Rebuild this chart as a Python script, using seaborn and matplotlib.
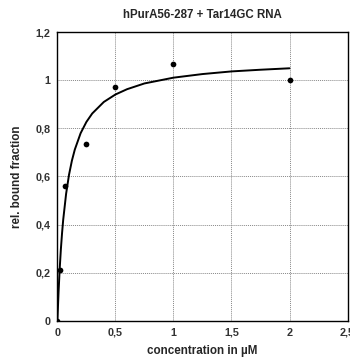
import matplotlib
matplotlib.use("Agg")
import matplotlib.pyplot as plt
import seaborn as sns
import pandas as pd
from matplotlib.ticker import FuncFormatter, MultipleLocator

# measured data points
conc = [0.0, 0.025, 0.0625, 0.25, 0.5, 1.0, 2.0]
bound = [0.0, 0.21, 0.56, 0.735, 0.973, 1.066, 1.0]

# fitted curve
fit_x = [0.0, 0.01, 0.02, 0.03, 0.04, 0.05, 0.075, 0.1, 0.125, 0.15, 0.2, 0.25,
         0.3, 0.4, 0.5, 0.6, 0.75, 1.0, 1.25, 1.5, 1.75, 2.0]
fit_y = [0.0, 0.12, 0.218, 0.298, 0.364, 0.42, 0.528, 0.607, 0.666, 0.712, 0.78,
         0.827, 0.862, 0.91, 0.941, 0.963, 0.987, 1.011, 1.026, 1.037, 1.044, 1.05]

title = "hPurA56-287 + Tar14GC RNA"
xlabel = "concentration in µM"
ylabel = "rel. bound fraction"

sns.set_style("white")
plt.rcParams['font.family'] = ['Liberation Sans', 'DejaVu Sans']

fig = plt.figure(figsize=(3.5, 3.58), dpi=100)
ax = fig.add_axes([0.164, 0.104, 0.829, 0.806])

pts = pd.DataFrame({"x": conc, "y": bound})
fit = pd.DataFrame({"x": fit_x, "y": fit_y})

sns.lineplot(data=fit, x="x", y="y", ax=ax, color="black", linewidth=1.4,
             sort=False, zorder=3)
sns.scatterplot(data=pts, x="x", y="y", ax=ax, color="black", s=17,
                edgecolor="black", linewidth=0, zorder=4)

ax.set_xlim(0, 2.5)
ax.set_ylim(0, 1.2)
ax.xaxis.set_major_locator(MultipleLocator(0.5))
ax.yaxis.set_major_locator(MultipleLocator(0.2))

def fmt(v, pos):
    s = ("%.1f" % v)
    if s.endswith(".0"):
        s = s[:-2]
    return s.replace(".", ",")

ax.xaxis.set_major_formatter(FuncFormatter(fmt))
ax.yaxis.set_major_formatter(FuncFormatter(fmt))

ax.grid(True, color="#888888", linestyle=(0, (1, 1)), linewidth=0.7)
ax.set_axisbelow(True)
for sp in ax.spines.values():
    sp.set_visible(True)
    sp.set_color("black")
    sp.set_linewidth(1.0)

ax.tick_params(axis="both", length=0, pad=5, labelsize=7.8, labelcolor="#333333")
for lab in ax.get_xticklabels() + ax.get_yticklabels():
    lab.set_fontweight("bold")

ax.set_title(title, fontsize=8.3, fontweight="bold", pad=10)
ax.set_xlabel(xlabel, fontsize=8.4, fontweight="bold", labelpad=5)
ax.set_ylabel(ylabel, fontsize=8.4, fontweight="bold", labelpad=9)

fig.savefig("out.png", dpi=100)
